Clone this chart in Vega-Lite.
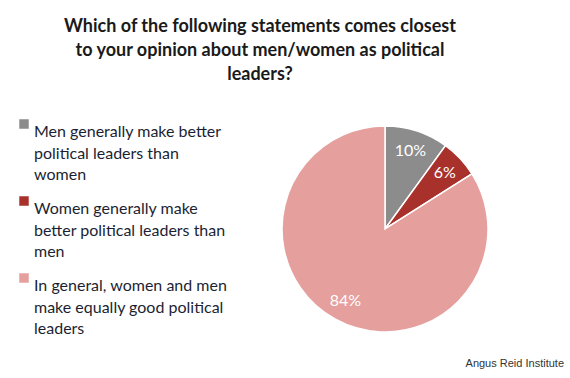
{
  "$schema": "https://vega.github.io/schema/vega-lite/v6.json",
  "width": 206,
  "height": 206,
  "autosize": {"type": "none"},
  "padding": {"left": 282, "top": 126, "right": 82, "bottom": 46},
  "background": "white",
  "title": {
    "text": ["Which of the following statements comes closest", "to your opinion about men/women as political", "leaders?"],
    "anchor": "middle",
    "frame": "group",
    "dx": -125,
    "dy": 5,
    "offset": 37,
    "font": "Lato",
    "fontSize": 18,
    "fontWeight": "bold",
    "lineHeight": 24,
    "color": "#1a1a1a"
  },
  "config": {
    "view": {"stroke": null},
    "style": {"guide-label": {"lineHeight": 21.5}}
  },
  "data": {
    "values": [
      {"idx": 1, "category": "Men generally make better|political leaders than|women", "pct": 10, "lbl": "10%"},
      {"idx": 2, "category": "Women generally make|better political leaders than|men", "pct": 6, "lbl": "6%"},
      {"idx": 3, "category": "In general, women and men|make equally good political|leaders", "pct": 84, "lbl": "84%"}
    ]
  },
  "layer": [
    {
      "mark": {"type": "arc", "stroke": "white", "strokeWidth": 1.5},
      "encoding": {
        "theta": {"field": "pct", "type": "quantitative", "stack": true},
        "order": {"field": "idx", "type": "quantitative"},
        "color": {
          "field": "category",
          "type": "nominal",
          "sort": null,
          "scale": {
            "domain": ["Men generally make better|political leaders than|women", "Women generally make|better political leaders than|men", "In general, women and men|make equally good political|leaders"],
            "range": ["#8c8c8c", "#a8322b", "#e5a09e"]
          },
          "legend": {
            "orient": "none",
            "legendX": -266,
            "legendY": -10,
            "title": null,
            "symbolType": "square",
            "symbolSize": 90,
            "symbolStrokeWidth": 0,
            "labelExpr": "split(datum.label, '|')",
            "labelFont": "Lato",
            "labelFontSize": 16,
            "labelColor": "#1c1f33",
            "labelLimit": 400,
            "labelBaseline": "top",
            "labelOffset": 2,
            "rowPadding": 10,
            "encode": {"labels": {"update": {"lineHeight": {"value": 21.5}}}}
          }
        }
      }
    },
    {
      "mark": {"type": "text", "radius": 82, "color": "white", "font": "Lato", "fontSize": 16},
      "encoding": {
        "theta": {"field": "pct", "type": "quantitative", "stack": true},
        "order": {"field": "idx", "type": "quantitative"},
        "text": {"field": "lbl", "type": "nominal"}
      }
    },
    {
      "data": {"values": [{"src": "Angus Reid Institute"}]},
      "mark": {"type": "text", "x": "width", "y": "height", "dx": 76, "dy": 32, "align": "right", "baseline": "middle", "font": "Liberation Sans", "fontSize": 11, "color": "#333333"},
      "encoding": {"text": {"field": "src", "type": "nominal"}}
    }
  ]
}
